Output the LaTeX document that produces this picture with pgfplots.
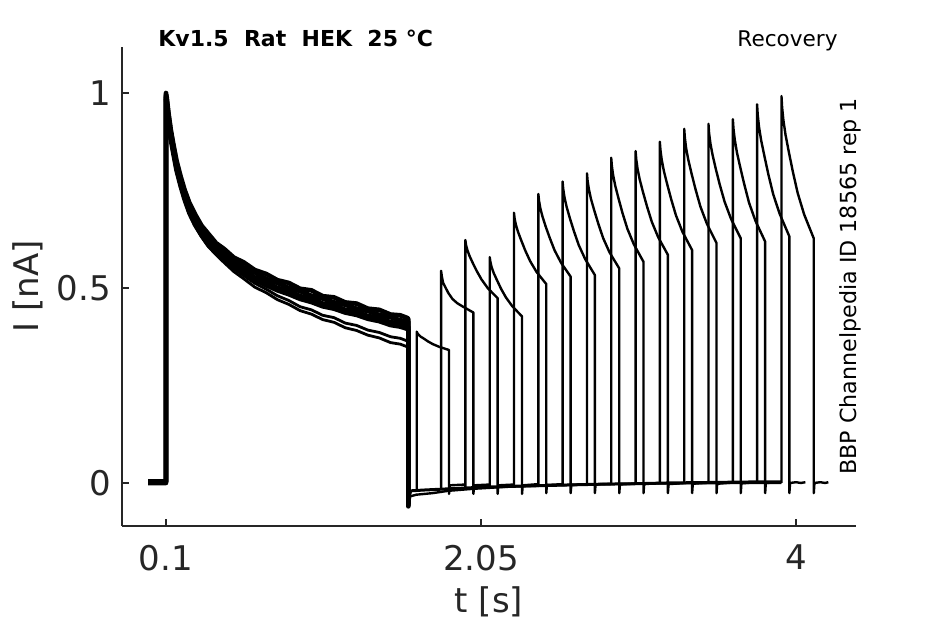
\documentclass[border=0pt]{standalone}
\usepackage{fontspec}
\setmainfont{DejaVu Sans}
\usepackage{pgfplots}
\pgfplotsset{compat=1.18}
\definecolor{axgray}{HTML}{262626}
\begin{document}
\begin{tikzpicture}
\useasboundingbox (-61pt,-49pt) rectangle (411.5pt,263pt);
\begin{axis}[
  at={(0pt,0pt)}, anchor=south west,
  scale only axis, width=367pt, height=239.5pt,
  xmin=-0.1724, xmax=4.3714, ymin=-0.1103, ymax=1.118,
  clip mode=individual,
  axis x line*=bottom, axis y line*=left,
  axis line style={axgray, line width=0.6pt},
  every tick/.style={axgray, line width=0.6pt},
  major tick length=3.5pt,
  tick align=inside,
  xtick={0.1,2.05,4}, xticklabels={0.1,2.05,4},
  ytick={0,0.5,1}, yticklabels={0,0.5,1},
  /pgf/number format/assume math mode=true,
  ticklabel style={font=\fontsize{17}{20}\selectfont, text=axgray},
  yticklabel style={xshift=-2pt},
  xticklabel style={yshift=-6pt},
  cond/.style={black, line width=2.3pt, line join=round},
  condl/.style={black, line width=1.4pt, line join=round},
  trace/.style={black, line width=1.2pt, line join=round},
]
% conditioning pulses
\addplot[cond] coordinates {(-0.01,0.003) (0.1,0.003) (0.1,1.0) (0.104,0.99) (0.115,0.95) (0.13,0.905) (0.145,0.87) (0.165,0.827) (0.19,0.787) (0.215,0.752) (0.245,0.718) (0.28,0.689) (0.32,0.66) (0.36,0.64) (0.41,0.615) (0.46,0.6) (0.52,0.578) (0.58,0.566) (0.65,0.546) (0.72,0.536) (0.79,0.52) (0.86,0.513) (0.93,0.498) (1.0,0.494) (1.07,0.479) (1.14,0.476) (1.21,0.463) (1.28,0.46) (1.35,0.447) (1.42,0.444) (1.49,0.432) (1.55,0.43) (1.595,0.423) (1.6,0.42) (1.6,-0.05) (1.605,-0.02)};
\addplot[cond] coordinates {(-0.01,0.0) (0.1,0.0) (0.1,0.995) (0.104,0.985) (0.115,0.944) (0.13,0.9) (0.145,0.864) (0.165,0.82) (0.19,0.779) (0.215,0.744) (0.245,0.71) (0.28,0.678) (0.32,0.653) (0.36,0.628) (0.41,0.608) (0.46,0.588) (0.52,0.571) (0.58,0.553) (0.65,0.54) (0.72,0.523) (0.79,0.513) (0.86,0.5) (0.93,0.492) (1.0,0.48) (1.07,0.473) (1.14,0.463) (1.21,0.457) (1.28,0.447) (1.35,0.441) (1.42,0.431) (1.49,0.425) (1.55,0.417) (1.595,0.415) (1.6,0.414) (1.6,-0.055) (1.605,-0.02)};
\addplot[cond] coordinates {(-0.01,0.004) (0.1,0.004) (0.1,0.99) (0.104,0.978) (0.115,0.932) (0.13,0.887) (0.145,0.852) (0.165,0.808) (0.19,0.768) (0.215,0.733) (0.245,0.698) (0.28,0.67) (0.32,0.64) (0.36,0.62) (0.41,0.596) (0.46,0.58) (0.52,0.558) (0.58,0.546) (0.65,0.527) (0.72,0.516) (0.79,0.5) (0.86,0.493) (0.93,0.479) (1.0,0.473) (1.07,0.46) (1.14,0.456) (1.21,0.444) (1.28,0.44) (1.35,0.428) (1.42,0.424) (1.49,0.412) (1.55,0.41) (1.595,0.402) (1.6,0.4) (1.6,-0.06) (1.605,-0.02)};
\addplot[cond] coordinates {(0.1,0.985) (0.104,0.97) (0.115,0.925) (0.13,0.88) (0.145,0.846) (0.165,0.802) (0.19,0.762) (0.215,0.727) (0.245,0.692) (0.28,0.662) (0.32,0.635) (0.36,0.612) (0.41,0.59) (0.46,0.572) (0.52,0.552) (0.58,0.537) (0.65,0.521) (0.72,0.507) (0.79,0.494) (0.86,0.484) (0.93,0.472) (1.0,0.464) (1.07,0.453) (1.14,0.447) (1.21,0.437) (1.28,0.431) (1.35,0.421) (1.42,0.415) (1.49,0.405) (1.55,0.401) (1.595,0.395) (1.6,0.393) (1.6,-0.06)};
\addplot[condl] coordinates {(0.1,0.99) (0.104,0.975) (0.115,0.93) (0.13,0.885) (0.145,0.85) (0.165,0.805) (0.19,0.765) (0.215,0.73) (0.245,0.695) (0.28,0.665) (0.32,0.637) (0.36,0.614) (0.41,0.592) (0.46,0.572) (0.52,0.55) (0.58,0.532) (0.65,0.512) (0.72,0.497) (0.79,0.48) (0.86,0.468) (0.93,0.452) (1.0,0.444) (1.07,0.43) (1.14,0.424) (1.21,0.41) (1.28,0.404) (1.35,0.392) (1.42,0.386) (1.49,0.375) (1.55,0.371) (1.595,0.364) (1.6,0.362) (1.6,-0.06)};
\addplot[condl] coordinates {(0.1,0.985) (0.104,0.97) (0.115,0.924) (0.13,0.879) (0.145,0.844) (0.165,0.8) (0.19,0.76) (0.215,0.724) (0.245,0.689) (0.28,0.659) (0.32,0.631) (0.36,0.607) (0.41,0.585) (0.46,0.565) (0.52,0.542) (0.58,0.524) (0.65,0.502) (0.72,0.488) (0.79,0.47) (0.86,0.458) (0.93,0.442) (1.0,0.433) (1.07,0.419) (1.14,0.412) (1.21,0.398) (1.28,0.391) (1.35,0.379) (1.42,0.372) (1.49,0.36) (1.55,0.356) (1.595,0.349) (1.6,0.346) (1.6,-0.06)};
% baseline between pulses
\addplot[black, line width=1.5pt] coordinates {(1.6,-0.06) (1.605,-0.025) (1.62,-0.02) (1.7,-0.018) (1.8,-0.016) (1.9,-0.014) (2.0,-0.012) (2.2,-0.009) (2.4,-0.007) (2.6,-0.005) (2.8,-0.003) (3.0,-0.002) (3.2,0.0) (3.4,0.001) (3.6,0.002) (3.8,0.003) (3.91,0.003)};
\addplot[black, line width=1.2pt] coordinates {(1.605,-0.035) (1.65,-0.03) (1.75,-0.026) (1.85,-0.02) (2.0,-0.015) (2.2,-0.01) (2.5,-0.006) (2.8,-0.003) (3.2,-0.001) (3.6,0.0) (3.91,0.0)};
% test pulses
\addplot[trace] coordinates {(1.652,-0.015) (1.652,0.388) (1.656,0.384) (1.664,0.380) (1.677,0.375) (1.697,0.370) (1.722,0.363) (1.752,0.356) (1.792,0.349) (1.852,0.341) (1.852,-0.028) (1.856,-0.006) (1.952,-0.004)};
\addplot[trace] coordinates {(1.803,-0.015) (1.803,0.544) (1.807,0.531) (1.815,0.514) (1.828,0.503) (1.848,0.487) (1.873,0.472) (1.903,0.461) (1.943,0.451) (2.003,0.437) (2.003,-0.028) (2.007,-0.006) (2.103,-0.004)};
\addplot[trace] coordinates {(1.953,-0.015) (1.953,0.623) (1.957,0.611) (1.965,0.598) (1.978,0.583) (1.998,0.565) (2.023,0.544) (2.053,0.522) (2.093,0.499) (2.153,0.474) (2.153,-0.028) (2.157,-0.006) (2.253,-0.004)};
\addplot[trace] coordinates {(2.104,-0.012) (2.104,0.579) (2.108,0.567) (2.116,0.553) (2.129,0.538) (2.149,0.520) (2.174,0.498) (2.204,0.476) (2.244,0.453) (2.304,0.427) (2.304,-0.028) (2.308,-0.006) (2.404,-0.003)};
\addplot[trace] coordinates {(2.254,-0.012) (2.254,0.693) (2.258,0.678) (2.266,0.662) (2.279,0.644) (2.299,0.622) (2.324,0.596) (2.354,0.569) (2.394,0.541) (2.454,0.510) (2.454,-0.026) (2.458,-0.005) (2.554,-0.003)};
\addplot[trace] coordinates {(2.405,-0.01) (2.405,0.741) (2.409,0.724) (2.417,0.705) (2.430,0.684) (2.450,0.658) (2.475,0.629) (2.505,0.597) (2.545,0.565) (2.605,0.529) (2.605,-0.026) (2.609,-0.005) (2.705,-0.003)};
\addplot[trace] coordinates {(2.555,-0.008) (2.555,0.773) (2.559,0.754) (2.567,0.732) (2.580,0.708) (2.600,0.679) (2.625,0.646) (2.655,0.610) (2.695,0.574) (2.755,0.533) (2.755,-0.026) (2.759,-0.004) (2.855,-0.002)};
\addplot[trace] coordinates {(2.706,-0.006) (2.706,0.794) (2.710,0.774) (2.718,0.753) (2.731,0.728) (2.751,0.699) (2.776,0.665) (2.806,0.628) (2.846,0.591) (2.906,0.550) (2.906,-0.026) (2.910,-0.004) (3.006,-0.001)};
\addplot[trace] coordinates {(2.856,-0.005) (2.856,0.834) (2.860,0.813) (2.868,0.789) (2.881,0.762) (2.901,0.730) (2.926,0.692) (2.956,0.652) (2.996,0.612) (3.056,0.567) (3.056,-0.026) (3.060,-0.003) (3.156,0.0)};
\addplot[trace] coordinates {(3.007,-0.004) (3.007,0.851) (3.011,0.830) (3.019,0.806) (3.032,0.779) (3.052,0.747) (3.077,0.710) (3.107,0.670) (3.147,0.630) (3.207,0.585) (3.207,-0.026) (3.211,-0.003) (3.307,0.0)};
\addplot[trace] coordinates {(3.157,-0.003) (3.157,0.875) (3.161,0.853) (3.169,0.828) (3.182,0.800) (3.202,0.767) (3.227,0.728) (3.257,0.686) (3.297,0.644) (3.357,0.597) (3.357,-0.026) (3.361,-0.002) (3.457,0.001)};
\addplot[trace] coordinates {(3.308,-0.002) (3.308,0.908) (3.312,0.885) (3.320,0.858) (3.333,0.829) (3.353,0.794) (3.378,0.753) (3.408,0.709) (3.448,0.665) (3.508,0.615) (3.508,-0.026) (3.512,-0.002) (3.608,0.001)};
\addplot[trace] coordinates {(3.458,-0.001) (3.458,0.921) (3.462,0.897) (3.470,0.871) (3.483,0.842) (3.503,0.806) (3.528,0.765) (3.558,0.721) (3.598,0.677) (3.658,0.627) (3.658,-0.026) (3.662,-0.001) (3.758,0.002)};
\addplot[trace] coordinates {(3.609,0.0) (3.609,0.933) (3.613,0.908) (3.621,0.880) (3.634,0.848) (3.654,0.811) (3.679,0.767) (3.709,0.719) (3.749,0.672) (3.809,0.619) (3.809,-0.026) (3.813,0.0) (3.909,0.002)};
\addplot[trace] coordinates {(3.759,0.0) (3.759,0.971) (3.763,0.944) (3.771,0.913) (3.784,0.879) (3.804,0.839) (3.829,0.791) (3.859,0.740) (3.899,0.690) (3.959,0.632) (3.959,-0.026) (3.963,0.0) (4.000,0.002) (4.030,0.0) (4.058,0.002)};
\addplot[trace] coordinates {(3.910,0.0) (3.910,0.992) (3.914,0.963) (3.922,0.930) (3.935,0.893) (3.955,0.850) (3.980,0.799) (4.010,0.744) (4.050,0.689) (4.110,0.627) (4.110,-0.026) (4.114,0.0) (4.150,0.002) (4.180,0.0) (4.200,0.002)};
% texts
\node[rotate=90, font=\fontsize{17}{20}\selectfont, text=axgray] at (axis description cs:-0.1281,0.5) {I [nA]};
\node[anchor=base, font=\fontsize{17}{20}\selectfont, text=axgray] at (axis description cs:0.5,-0.1816) {t [s]};
\node[anchor=base west, font=\bfseries\fontsize{11}{13}\selectfont, inner sep=0pt] at (axis description cs:0.049,1.0013) {Kv1.5\ \ Rat\ \ HEK\ \ 25 °C};
\node[anchor=base east, font=\fontsize{10.8}{13}\selectfont, inner sep=0pt] at (axis description cs:0.9755,1.002) {Recovery};
\node[rotate=90, anchor=base west, font=\fontsize{11.1}{13}\selectfont, inner sep=0pt] at (axis description cs:1,0.1065) {BBP Channelpedia ID 18565 rep 1};
\end{axis}
\end{tikzpicture}
\end{document}
